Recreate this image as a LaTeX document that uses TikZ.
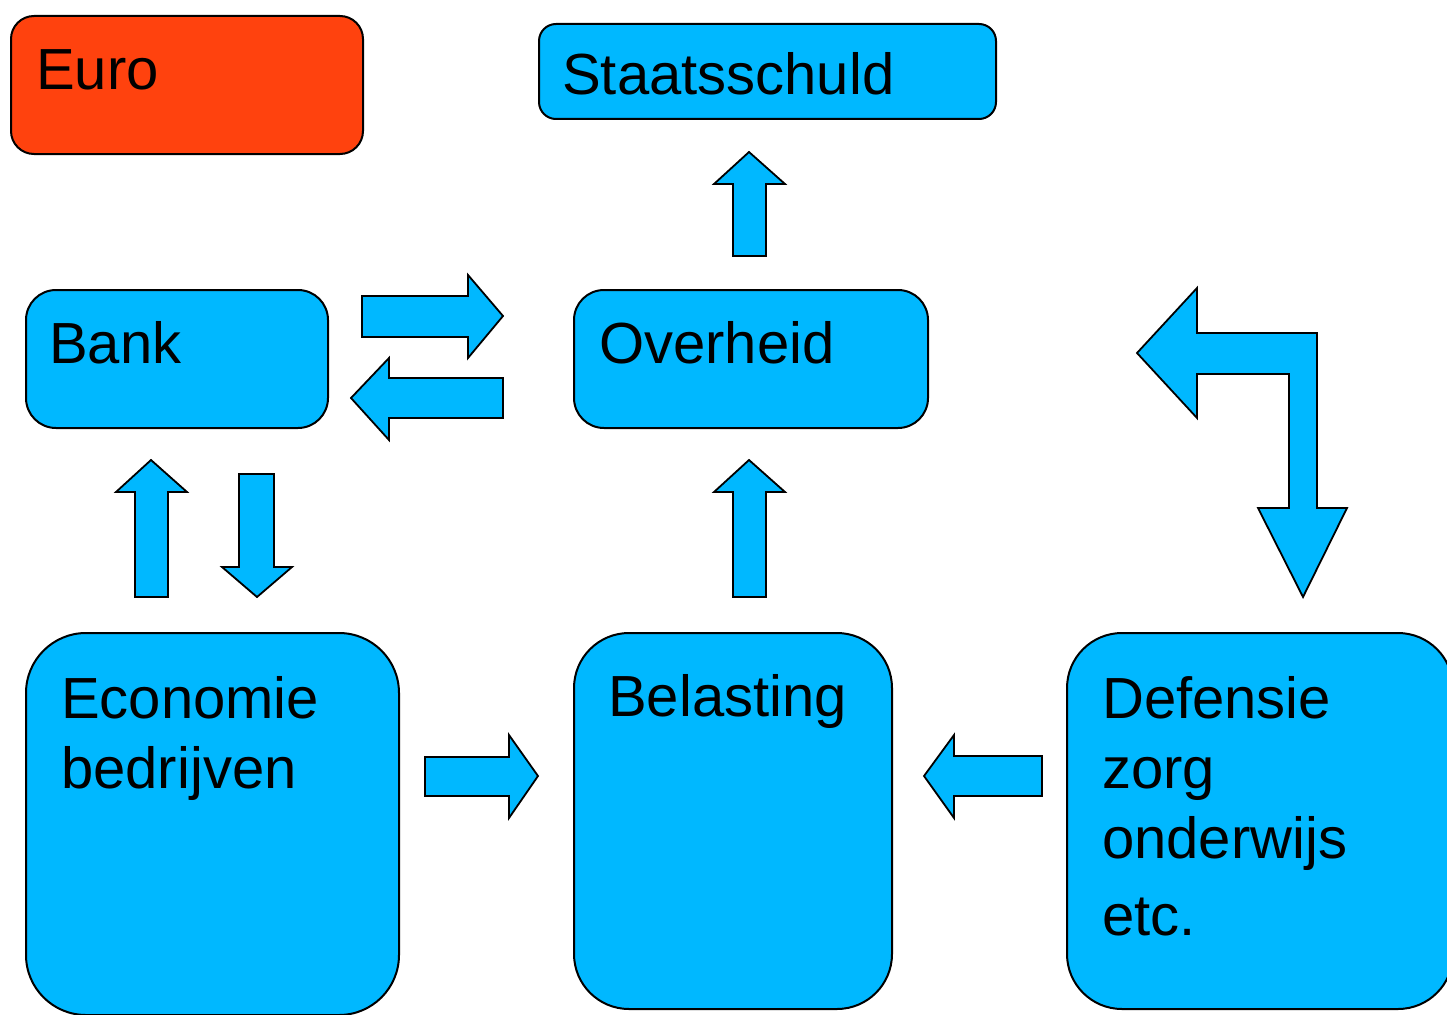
\documentclass[tikz,border=0pt]{standalone}
\usepackage{fontspec}
\setmainfont{Liberation Sans}
\definecolor{blauw}{RGB}{0,184,255}
\definecolor{oranje}{RGB}{255,66,14}
\tikzset{
	vak/.style={draw=black, line width=2pt, fill=blauw, rounded corners=#1, inner sep=0pt, anchor=north west},
	vak/.default=30pt,
	tekst/.style={anchor=base west, inner sep=0pt, align=left, font=\fontsize{58}{70}\selectfont},
	pijl/.style={draw=black, line width=1.8pt, fill=blauw, line join=miter}
}
\begin{document}
\begin{tikzpicture}[x=1pt,y=-1pt]
	\useasboundingbox (0,0) rectangle (1447,1014);
	% vakken
	\node[vak=23pt, fill=oranje, minimum width=352pt, minimum height=138pt] (euro) at (10,15) {};
	\node[vak=17pt, minimum width=457pt, minimum height=95pt] (schuld) at (538,23) {};
	\node[vak, minimum width=302pt, minimum height=138pt] (bank) at (25,289) {};
	\node[vak, minimum width=354pt, minimum height=138pt] (overheid) at (573,289) {};
	\node[vak=60pt, minimum width=373pt, minimum height=382pt] (economie) at (25,632) {};
	\node[vak=55pt, minimum width=318pt, minimum height=376pt] (belasting) at (573,632) {};
	\node[vak=55pt, minimum width=386pt, minimum height=376pt] (defensie) at (1066,632) {};
	% teksten (basislijn van de laatste regel)
	\node[tekst] (euroT) at (36,90) {Euro};
	\node[tekst] (schuldT) at (562,95) {Staatsschuld};
	\node[tekst] (bankT) at (49,363) {Bank};
	\node[tekst] (overheidT) at (599,363) {Overheid};
	\node[tekst] (economieT) at (61,788) {Economie\\bedrijven};
	\node[tekst] (belastingT) at (608,716) {Belasting};
	\node[tekst] (defensieT) at (1102,935) {Defensie\\zorg\\onderwijs\\[7pt]etc.};
	% pijlen omhoog
	\foreach \xa/\ya/\yb in {733/256/152, 733/597/460, 135/597/460}
		\draw[pijl] (\xa,\ya)--(\xa,\yb+32)--(\xa-19,\yb+32)--(\xa+16,\yb)--(\xa+52,\yb+32)--(\xa+33,\yb+32)--(\xa+33,\ya)--cycle;
	% pijl omlaag
	\draw[pijl] (239,474)--(274,474)--(274,567)--(292,567)--(257,597)--(222,567)--(239,567)--cycle;
	% pijlen opzij
	\draw[pijl] (362,296)--(468,296)--(468,275)--(503,316)--(468,358)--(468,337)--(362,337)--cycle;
	\draw[pijl] (503,378)--(389,378)--(389,358)--(351,398)--(389,440)--(389,418)--(503,418)--cycle;
	\draw[pijl] (425,757)--(509,757)--(509,735)--(538,776)--(509,818)--(509,796)--(425,796)--cycle;
	\draw[pijl] (1042,756)--(954,756)--(954,735)--(924,776)--(954,818)--(954,796)--(1042,796)--cycle;
	% geknikte pijl
	\draw[pijl] (1137,353)--(1197,288)--(1197,333)--(1317,333)--(1317,508)--(1347,508)--(1303,597)
		--(1258,508)--(1289,508)--(1289,374)--(1197,374)--(1197,418)--cycle;
\end{tikzpicture}
\end{document}
